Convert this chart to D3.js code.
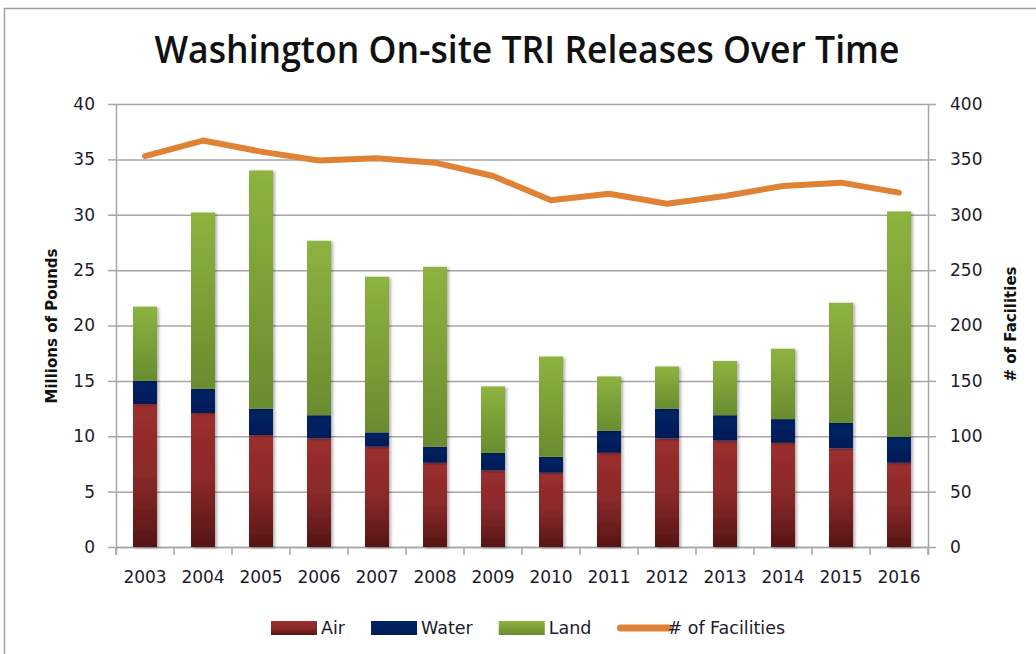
<!DOCTYPE html>
<html><head><meta charset="utf-8">
<script src="https://cdn.jsdelivr.net/npm/d3@7"></script>
<style>body{margin:0;background:#fff} svg{display:block}</style>
</head><body>
<script>
const years = ["2003","2004","2005","2006","2007","2008","2009","2010","2011","2012","2013","2014","2015","2016"];
const air   = [12.9, 12.1, 10.1, 9.8, 9.05, 7.6, 6.9, 6.7, 8.5, 9.8, 9.6, 9.4, 8.9, 7.6];
const water = [2.1, 2.2, 2.4, 2.1, 1.3, 1.45, 1.6, 1.45, 2.0, 2.7, 2.3, 2.15, 2.3, 2.35];
const land  = [6.7, 15.9, 21.5, 15.75, 14.05, 16.25, 6.0, 9.05, 4.9, 3.8, 4.9, 6.35, 10.85, 20.35];
const facilities = [353, 367, 357, 349, 351, 347, 335, 313, 319, 310, 317, 326, 329, 320];
const leftTicks = [0, 5, 10, 15, 20, 25, 30, 35, 40];
const rightTicks = [0, 50, 100, 150, 200, 250, 300, 350, 400];
const seriesNames = ["Air", "Water", "Land"];
const lineName = "# of Facilities";
const titleText = "Washington On-site TRI Releases Over Time";
const leftTitle = "Millions of Pounds";
const rightTitle = "# of Facilities";

const W = 1036, H = 654;
const L = 116, R = 928, T = 104, B = 547;
const gridCol = "#a6a6a6", txtCol = "#1b1b2b";
const tickFont = "DejaVu Sans";

const svg = d3.select("body").append("svg").attr("width", W).attr("height", H);
const defs = svg.append("defs");
function grad(id, stops) {
  const g = defs.append("linearGradient").attr("id", id).attr("x1", 0).attr("y1", 0).attr("x2", 0).attr("y2", 1);
  stops.forEach(s => g.append("stop").attr("offset", s[0]).attr("stop-color", s[1]));
}
grad("gAir", [[0, "#9c2e2e"], [0.5, "#8a2929"], [1, "#561515"]]);
grad("gLand", [[0, "#8db33f"], [1, "#6a8c2f"]]);
grad("gWater", [[0, "#002263"], [1, "#001d58"]]);
const f = defs.append("filter").attr("id", "sh").attr("x", "-20%").attr("y", "-5%").attr("width", "150%").attr("height", "115%");
f.append("feDropShadow").attr("dx", 2).attr("dy", 1).attr("stdDeviation", 1.5).attr("flood-color", "#000").attr("flood-opacity", 0.3);

// outer frame
svg.append("rect").attr("x", 4.5).attr("y", 8.5).attr("width", 1200).attr("height", 900)
  .attr("fill", "none").attr("stroke", "#a0a0a0").attr("stroke-width", 1.5);

const x = d3.scaleBand().domain(years).range([L, R]).paddingInner(0.5862).paddingOuter(0.2931);
const y = d3.scaleLinear().domain([0, 40]).range([B, T]);
const y2 = d3.scaleLinear().domain([0, 400]).range([B, T]);

// gridlines
const grid = svg.append("g").attr("transform", `translate(${L},0)`)
  .call(d3.axisLeft(y).tickValues(leftTicks).tickSize(-(R - L)).tickFormat(""));
grid.select(".domain").remove();
grid.selectAll("line").attr("stroke", gridCol).attr("stroke-width", 1.5);

// left axis
const ax = svg.append("g").attr("transform", `translate(${L},0)`)
  .call(d3.axisLeft(y).tickValues(leftTicks).tickSize(8).tickPadding(13).tickSizeOuter(0));
ax.select(".domain").attr("d", `M0.5,${T}V${B + 8}`).attr("stroke", gridCol).attr("stroke-width", 1.5);
ax.selectAll(".tick line").attr("stroke", gridCol).attr("stroke-width", 1.5);
ax.selectAll("text").attr("font-family", tickFont).attr("font-size", 17).attr("fill", txtCol);

// right axis
const ax2 = svg.append("g").attr("transform", `translate(${R},0)`)
  .call(d3.axisRight(y2).tickValues(rightTicks).tickSize(8).tickPadding(14).tickSizeOuter(0));
ax2.select(".domain").attr("d", `M0.5,${T}V${B + 8}`).attr("stroke", gridCol).attr("stroke-width", 1.5);
ax2.selectAll(".tick line").attr("stroke", gridCol).attr("stroke-width", 1.5);
ax2.selectAll("text").attr("font-family", tickFont).attr("font-size", 17).attr("fill", txtCol);

// bottom axis
const gap = (x.step() - x.bandwidth()) / 2;
const bx = svg.append("g");
bx.append("line").attr("x1", L).attr("x2", R).attr("y1", B + 0.5).attr("y2", B + 0.5)
  .attr("stroke", gridCol).attr("stroke-width", 1.5);
const bounds = years.map(d => x(d) - gap).concat([R]);
bx.selectAll(".bt").data(bounds).join("line").attr("x1", d => d).attr("x2", d => d)
  .attr("y1", B).attr("y2", B + 8).attr("stroke", gridCol).attr("stroke-width", 1.5);
const axB = svg.append("g").attr("transform", `translate(0,${B})`)
  .call(d3.axisBottom(x).tickSize(0).tickPadding(24));
axB.select(".domain").remove();
axB.selectAll("text").attr("font-family", tickFont).attr("font-size", 17).attr("fill", txtCol);

// stacked bars
const rows = years.map((yr, i) => ({ year: yr, Air: air[i], Water: water[i], Land: land[i] }));
const stack = d3.stack().keys(seriesNames)(rows);
const fills = { Air: "url(#gAir)", Water: "url(#gWater)", Land: "url(#gLand)" };
svg.append("g").selectAll("g").data(stack).join("g")
  .attr("fill", d => fills[d.key])
  .selectAll("rect").data(d => d).join("rect")
  .attr("x", d => x(d.data.year)).attr("width", x.bandwidth())
  .attr("y", d => y(d[1])).attr("height", d => y(d[0]) - y(d[1]))
  .attr("filter", "url(#sh)");

// facilities line
const line = d3.line().x((d, i) => x(years[i]) + x.bandwidth() / 2).y(d => y2(d)).curve(d3.curveLinear);
svg.append("path").datum(facilities).attr("d", line).attr("fill", "none")
  .attr("stroke", "#df8236").attr("stroke-width", 6).attr("stroke-linejoin", "round").attr("stroke-linecap", "round");

// title
svg.append("text").attr("x", 527).attr("y", 63).attr("text-anchor", "middle")
  .attr("font-family", "Open Sans, sans-serif").attr("font-weight", 600)
  .attr("font-size", 38).attr("textLength", 745).attr("lengthAdjust", "spacingAndGlyphs")
  .attr("fill", "#111").text(titleText);

// axis titles
svg.append("text").attr("transform", "translate(57,326) rotate(-90)").attr("text-anchor", "middle")
  .attr("font-family", tickFont).attr("font-weight", "bold").attr("font-size", 15).attr("fill", "#111").text(leftTitle);
svg.append("text").attr("transform", "translate(1016,324) rotate(-90)").attr("text-anchor", "middle")
  .attr("font-family", tickFont).attr("font-weight", "bold").attr("font-size", 15).attr("fill", "#111").text(rightTitle);

// legend
const leg = svg.append("g");
const items = [
  { name: "Air", type: "rect", fill: "url(#gAir)" },
  { name: "Water", type: "rect", fill: "url(#gWater)" },
  { name: "Land", type: "rect", fill: "url(#gLand)" },
  { name: lineName, type: "line" }
];
let cx = 0;
const ly = 628;
const itemGap = 26;
items.forEach((it, i) => {
  const g = leg.append("g");
  if (it.type === "rect") {
    g.append("rect").attr("x", cx).attr("y", ly - 7).attr("width", 46).attr("height", 14).attr("fill", it.fill);
  } else {
    g.append("line").attr("x1", cx + 3).attr("x2", cx + 51).attr("y1", ly).attr("y2", ly)
      .attr("stroke", "#df8236").attr("stroke-width", 7).attr("stroke-linecap", "round");
  }
  const t = g.append("text").attr("x", cx + 50).attr("y", ly + 6).attr("font-family", tickFont)
    .attr("font-size", 17.5).attr("fill", txtCol).text(it.name);
  cx += 50 + t.node().getComputedTextLength() + itemGap;
});
const total = cx - itemGap;
leg.attr("transform", `translate(${271},0)`);
</script>
</body></html>
